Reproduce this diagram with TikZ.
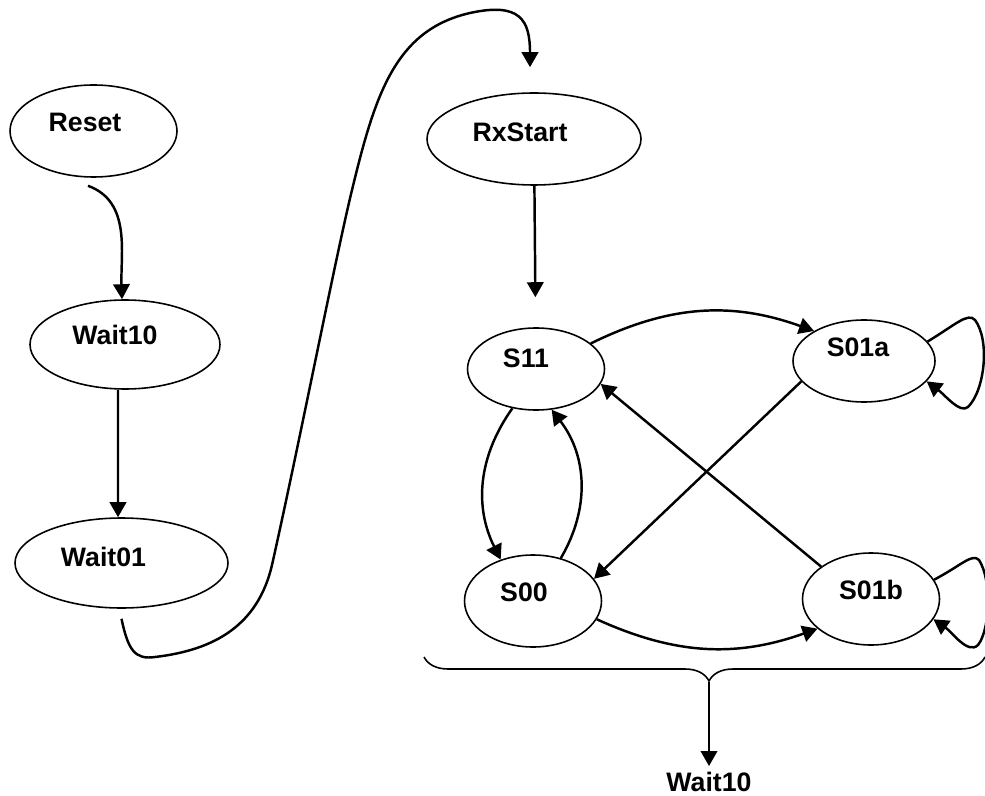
\documentclass[tikz,border=0pt]{standalone}
\usepackage{fontspec}
\setmainfont{Liberation Sans}
\usetikzlibrary{shapes.geometric}
\usetikzlibrary{arrows.meta}
\usetikzlibrary{decorations.pathreplacing}

\begin{document}
\begin{tikzpicture}[x=2mm,y=-2mm,
	statebox/.style={ellipse,draw,line width=0.9pt,inner sep=0pt},
	tag/.style={font=\fontsize{15.2}{18}\selectfont\bfseries,inner sep=0pt},
	arr/.style={line width=1.4pt,-{Triangle[length=3mm,width=3.3mm]}}]
	\useasboundingbox (0,0) rectangle (98.5,79.6);
	% start chain
	\node[statebox,minimum width=33.4mm,minimum height=18.4mm,label={[tag,xshift=-1.7mm,yshift=1.8mm]center:Reset}] (reset) at (9.35,13.1) {};
	\node[statebox,minimum width=38mm,minimum height=17.8mm,label={[tag,xshift=-2mm,yshift=1.9mm]center:Wait10}] (wait10) at (12.5,34.45) {};
	\node[statebox,minimum width=42.6mm,minimum height=18mm,label={[tag,xshift=-3.6mm,yshift=1.2mm]center:Wait01}] (wait01) at (12.15,56.3) {};
	\node[statebox,minimum width=42.8mm,minimum height=18.4mm,label={[tag,xshift=-2.8mm,yshift=1.3mm]center:RxStart}] (rxstart) at (53.4,13.9) {};
	% receive states
	\node[statebox,minimum width=27.4mm,minimum height=16.4mm,label={[tag,xshift=-2mm,yshift=2.2mm]center:S11}] (s11) at (53.6,36.9) {};
	\node[statebox,minimum width=28.4mm,minimum height=16.4mm,label={[tag,xshift=-1.2mm,yshift=2.8mm]center:S01a}] (s01a) at (86.4,36.1) {};
	\node[statebox,minimum width=27.4mm,minimum height=18.4mm,label={[tag,xshift=-1.8mm,yshift=1.8mm]center:S00}] (s00) at (53.3,60.1) {};
	\node[statebox,minimum width=27.4mm,minimum height=18.4mm,label={[tag,yshift=1.8mm]center:S01b}] (s01b) at (87.1,59.9) {};

	\draw[arr] ([xshift=-1.1mm,yshift=-1.6mm]reset.south) to[out=-20,in=92] ([xshift=-0.6mm]wait10.north);
	\draw[arr] ([xshift=-1.4mm]wait10.south) -- ([xshift=-0.7mm]wait01.north);
	\draw[arr] ([yshift=-2mm]wait01.south) .. controls (12.8,65) and (13.5,66) .. (15.5,65.7)
		.. controls (21.5,65) and (25.8,62.5) .. (27.2,56.5)
		.. controls (30,44) and (33.5,26) .. (35.2,19)
		.. controls (37.5,9.5) and (39.5,3) .. (47,1.3)
		.. controls (52,0.2) and (53,2) .. ([xshift=-0.8mm,yshift=5mm]rxstart.north);
	\draw[arr,shorten >=6mm] (rxstart) -- (s11);

	\draw[arr] (s11.25) to[bend left=23] (s01a.149);
	\draw[arr] (s01a.-162) -- (s00.20);
	\draw[arr] (s01b.147) -- (s11.-13);
	\draw[arr] (s11.-121) to[bend right=31] (s00.128);
	\draw[arr] (s00.57) to[bend right=34] (s11.-69);
	\draw[arr] (s00.-16) to[bend right=22] (s01b.-151);
	% self loops
	\draw[arr] (s01a.17) .. controls (95.5,32.5) and (96.8,31.2) .. (97.5,32)
		.. controls (99,34) and (98.5,39) .. (96.8,40.7)
		.. controls (96,41.4) and (94.5,39.5) .. (s01a.-18);
	\draw[arr] (s01b.17) .. controls (96.2,56.5) and (97.2,55.3) .. (97.9,56)
		.. controls (99.2,58) and (99,63) .. (97.8,64.5)
		.. controls (96.8,65.5) and (95.2,63.2) .. (s01b.-18);

	% brace and exit
	\coordinate (bl) at (42.4,65.7);
	\coordinate (br) at (98.5,65.7);
	\draw[line width=0.9pt,decorate,decoration={brace,mirror,amplitude=4.8mm,aspect=0.508}] (bl) -- (br);
	\coordinate (bt) at (70.9,68.2);
	\node[tag,anchor=north] (next) at (70.9,77.2) {Wait10};
	\draw[arr,shorten >=1.2mm] (bt) -- (next.north);
\end{tikzpicture}
\end{document}
